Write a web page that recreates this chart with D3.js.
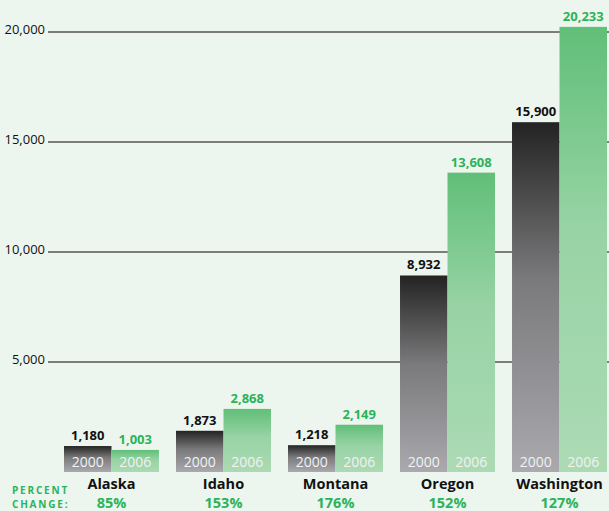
<!DOCTYPE html>
<html lang="en">
<head>
    <meta charset="UTF-8">
    <style>
        body {
            margin: 0;
            padding: 0;
            background-color: #edf6ee;
            overflow: hidden;
        }
        #chart {
            display: block;
            font-family: "Open Sans", "Noto Sans", sans-serif;
        }
        .grid line {
            stroke: #555;
            stroke-width: 1.5px;
        }
        .tick-label {
            font-size: 13px;
            fill: #111;
            text-anchor: end;
        }
    </style>
</head>
<body>
    <svg id="chart"></svg>

    <script src="https://cdn.jsdelivr.net/npm/d3@7"></script>
    <script>
        const width = 609;
        const height = 511;

        // data
        const states = ["Alaska", "Idaho", "Montana", "Oregon", "Washington"];
        const years = ["2000", "2006"];
        const values2000 = [1180, 1873, 1218, 8932, 15900];
        const values2006 = [1003, 2868, 2149, 13608, 20233];
        const percentChange = ["85%", "153%", "176%", "152%", "127%"];
        const yTicks = [5000, 10000, 15000, 20000];

        const svg = d3.select("#chart")
            .attr("width", width)
            .attr("height", height);

        svg.append("rect")
            .attr("width", width)
            .attr("height", height)
            .attr("fill", "#edf6ee");

        const defs = svg.append("defs");
        const darkGrad = defs.append("linearGradient")
            .attr("id", "darkGrad")
            .attr("x1", 0).attr("y1", 0).attr("x2", 0).attr("y2", 1);
        darkGrad.append("stop").attr("offset", "0%").attr("stop-color", "#232323");
        darkGrad.append("stop").attr("offset", "45%").attr("stop-color", "#7a7a7c");
        darkGrad.append("stop").attr("offset", "100%").attr("stop-color", "#a9a9ae");

        const greenGrad = defs.append("linearGradient")
            .attr("id", "greenGrad")
            .attr("x1", 0).attr("y1", 0).attr("x2", 0).attr("y2", 1);
        greenGrad.append("stop").attr("offset", "0%").attr("stop-color", "#60bf78");
        greenGrad.append("stop").attr("offset", "45%").attr("stop-color", "#98d3a5");
        greenGrad.append("stop").attr("offset", "100%").attr("stop-color", "#acdab4");

        const y = d3.scaleLinear()
            .domain([0, 20000])
            .range([472, 32]);

        const x = d3.scaleBand()
            .domain(states)
            .range([64, 607])
            .paddingInner(0.152)
            .paddingOuter(0);

        const xYear = d3.scaleBand()
            .domain(years)
            .range([0, x.bandwidth()]);

        // title, almost entirely cut off at the top edge (as in the source image)
        svg.append("text")
            .attr("x", 272)
            .attr("y", -4)
            .attr("text-anchor", "middle")
            .attr("font-size", 17)
            .attr("font-weight", "bold")
            .attr("fill", "#222")
            .text("Change in Number of Certified Organic Acres");

        // gridlines
        const grid = svg.append("g").attr("class", "grid");
        grid.selectAll("line")
            .data(yTicks)
            .join("line")
            .attr("x1", 48)
            .attr("x2", width)
            .attr("y1", d => y(d))
            .attr("y2", d => y(d));

        svg.append("g").selectAll("text")
            .data(yTicks)
            .join("text")
            .attr("class", "tick-label")
            .attr("x", 45)
            .attr("y", d => y(d) + 2)
            .text(d => d3.format(",")(d));

        const rows = states.map((s, i) => ({
            state: s,
            v2000: values2000[i],
            v2006: values2006[i],
            pct: percentChange[i]
        }));

        const groups = svg.append("g").selectAll("g")
            .data(rows)
            .join("g")
            .attr("transform", d => `translate(${x(d.state)},0)`);

        const bars = [
            { key: "2000", field: "v2000", fill: "url(#darkGrad)", color: "#111" },
            { key: "2006", field: "v2006", fill: "url(#greenGrad)", color: "#2bb35a" }
        ];

        bars.forEach(b => {
            groups.append("rect")
                .attr("x", xYear(b.key))
                .attr("width", xYear.bandwidth())
                .attr("y", d => y(d[b.field]))
                .attr("height", d => y(0) - y(d[b.field]))
                .attr("fill", b.fill);

            groups.append("text")
                .attr("x", xYear(b.key) + xYear.bandwidth() / 2)
                .attr("y", d => y(d[b.field]) - 6)
                .attr("text-anchor", "middle")
                .attr("font-size", 13)
                .attr("font-weight", "bold")
                .attr("fill", b.color)
                .text(d => d3.format(",")(d[b.field]));

            groups.append("text")
                .attr("x", xYear(b.key) + xYear.bandwidth() / 2)
                .attr("y", 467)
                .attr("text-anchor", "middle")
                .attr("font-size", 14)
                .attr("fill", "#f2f2f2")
                .text(b.key);
        });

        groups.append("text")
            .attr("x", x.bandwidth() / 2)
            .attr("y", 489)
            .attr("text-anchor", "middle")
            .attr("font-size", 14.5)
            .attr("font-weight", "bold")
            .attr("fill", "#111")
            .text(d => d.state);

        groups.append("text")
            .attr("x", x.bandwidth() / 2)
            .attr("y", 508)
            .attr("text-anchor", "middle")
            .attr("font-size", 14.5)
            .attr("font-weight", "bold")
            .attr("fill", "#2bb35a")
            .text(d => d.pct);

        // "PERCENT CHANGE:" side label
        const side = svg.append("text")
            .attr("font-size", 10)
            .attr("font-weight", "bold")
            .attr("fill", "#2bb35a")
            .attr("letter-spacing", "1.8px");
        side.append("tspan").attr("x", 12).attr("y", 494).text("PERCENT");
        side.append("tspan").attr("x", 12).attr("y", 508).text("CHANGE:");
    </script>
</body>
</html>
